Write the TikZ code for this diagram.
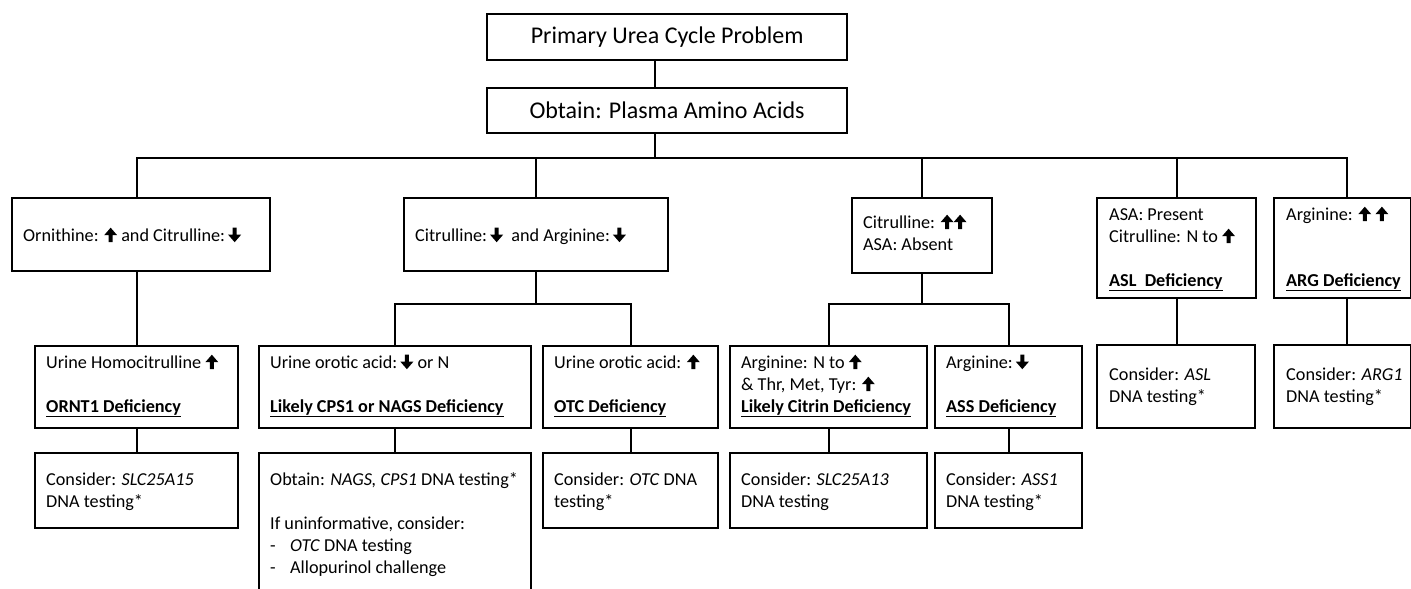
\documentclass[tikz,border=0pt]{standalone}
\usepackage{fontspec}
\setmainfont{Carlito}
\newcommand\UA{\tikz[baseline=0pt,x=1pt,y=1pt]{\fill (-2,-1) -- (2,-1) -- (2,6) -- (6.5,6) -- (0,13.5) -- (-6.5,6) -- (-2,6) -- cycle;}}
\newcommand\DA{\tikz[baseline=0pt,x=1pt,y=1pt]{\fill (-2,13.5) -- (2,13.5) -- (2,6.5) -- (6.5,6.5) -- (0,-1) -- (-6.5,6.5) -- (-2,6.5) -- cycle;}}
\newcommand\dfc[1]{\underline{\textbf{#1}}}
\newcommand\dsh{\makebox[20pt][l]{-}}
\tikzset{
  box/.style={draw, line width=2.2pt, inner sep=0pt, anchor=north west},
  txt/.style={inner sep=0pt, anchor=north west, align=left, font=\fontsize{18.2}{22}\selectfont},
  big/.style={font=\fontsize{24}{28}\selectfont},
  conn/.style={line width=2.2pt}
}
% \bx{name}{x1}{y1}{x2}{y2}
\newcommand\bx[5]{\node[box, minimum width=#4pt-#2pt, minimum height=#5pt-#3pt] (#1) at (#2,#3) {};}
% \tx{name}{x}{first line centre y}{text}
\newcommand\tx[4]{\node[txt] (#1) at (#2,#3-10.4) {\strut #4};}
\begin{document}
\begin{tikzpicture}[x=1pt,y=-1pt]
\useasboundingbox (0,0) rectangle (1411,589);
% top boxes
\node[box, big, minimum width=360pt, minimum height=46pt] (top) at (486,13) {Primary Urea Cycle Problem};
\node[box, big, minimum width=360pt, minimum height=45pt] (plasma) at (486,87) {Obtain: Plasma Amino Acids};
\coordinate (bus) at (655,158);
\coordinate (argx) at (1347,0);
% level 1
\bx{orn}{11}{197}{269}{270}
\bx{cit}{403}{197}{667}{270}
\bx{citr}{851}{197}{991}{272}
\bx{asl}{1096}{197}{1255}{297}
\bx{arg}{1273}{197}{1410}{297}
% level 2
\bx{homo}{34}{345}{237}{427}
\bx{cps}{258}{345}{530}{427}
\bx{otc}{542}{345}{717}{427}
\bx{citrin}{729}{345}{926}{427}
\bx{ass}{934}{345}{1081}{427}
\bx{aslc}{1096}{344}{1254}{427}
\bx{argc}{1273}{344}{1410}{427}
% level 3
\bx{slcA}{34}{452}{237}{527}
\bx{nags}{258}{452}{530}{600}
\bx{otcc}{542}{452}{717}{527}
\bx{slcB}{729}{452}{926}{527}
\bx{assc}{934}{452}{1081}{527}
% texts
\tx{tOrn}{23}{236}{Ornithine: \UA\ and Citrulline:\,\DA}
\tx{tCit}{415}{236}{Citrulline:\,\DA\ \ and Arginine:\,\DA}
\tx{tCitr}{863}{223}{Citrulline: \UA\UA\\ASA: Absent}
\tx{tAsl}{1109}{215}{ASA: Present\\Citrulline: N to \UA\\\strut\\\dfc{ASL\ \ Deficiency}}
\tx{tArg}{1286}{215}{Arginine: \UA\ \UA\\\strut\\\strut\\\dfc{ARG Deficiency}}
\tx{tHomo}{46}{363}{Urine Homocitrulline \UA\\\strut\\\dfc{ORNT1 Deficiency}}
\tx{tCps}{270}{363}{Urine orotic acid:\,\DA\ or N\\\strut\\\dfc{Likely CPS1 or NAGS Deficiency}}
\tx{tOtc}{554}{363}{Urine orotic acid: \UA\\\strut\\\dfc{OTC Deficiency}}
\tx{tCitrin}{741}{363}{Arginine: N to \UA\\\& Thr, Met, Tyr: \UA\\\dfc{Likely Citrin Deficiency}}
\tx{tAss}{946}{363}{Arginine:\,\DA\\\strut\\\dfc{ASS Deficiency}}
\tx{tAslc}{1109}{375}{Consider: \textit{ASL}\\DNA testing*}
\tx{tArgc}{1286}{375}{Consider: \textit{ARG1}\\DNA testing*}
\tx{tSlcA}{46}{480}{Consider: \textit{SLC25A15}\\DNA testing*}
\tx{tNags}{270}{480}{Obtain: \textit{NAGS, CPS1} DNA testing*\\\strut\\If uninformative, consider:\\\dsh\textit{OTC} DNA testing\\\dsh Allopurinol challenge}
\tx{tOtcc}{554}{480}{Consider: \textit{OTC} DNA\\testing*}
\tx{tSlcB}{741}{480}{Consider: \textit{SLC25A13}\\DNA testing}
\tx{tAssc}{946}{480}{Consider: \textit{ASS1}\\DNA testing*}
% connectors
\draw[conn] (top.south -| bus) -- (plasma.north -| bus);
\draw[conn] (plasma.south -| bus) -- (bus);
\draw[conn] (orn.north -| homo.north) |- (bus) -| (arg.north -| argx);
\draw[conn] (cit.north) -- (cit.north |- bus);
\draw[conn] (citr.north) -- (citr.north |- bus);
\draw[conn] (asl.north) -- (asl.north |- bus);
\draw[conn] (orn.south -| homo.north) -- (homo.north);
\path (cit.south) ++(0,32) coordinate (subA);
\path (citr.south) ++(0,30) coordinate (subB);
\draw[conn] (cit.south) -- (subA);
\draw[conn] (cps.north) |- (subA) -| (otc.north);
\draw[conn] (citr.south) -- (subB);
\draw[conn] (citrin.north) |- (subB) -| (ass.north);
\draw[conn] (asl.south) -- (aslc.north -| asl.south);
\draw[conn] (arg.south -| argx) -- (argc.north -| argx);
\draw[conn] (homo.south) -- (slcA.north);
\draw[conn] (cps.south) -- (nags.north);
\draw[conn] (otc.south) -- (otcc.north);
\draw[conn] (citrin.south) -- (slcB.north);
\draw[conn] (ass.south) -- (assc.north);
\end{tikzpicture}
\end{document}
